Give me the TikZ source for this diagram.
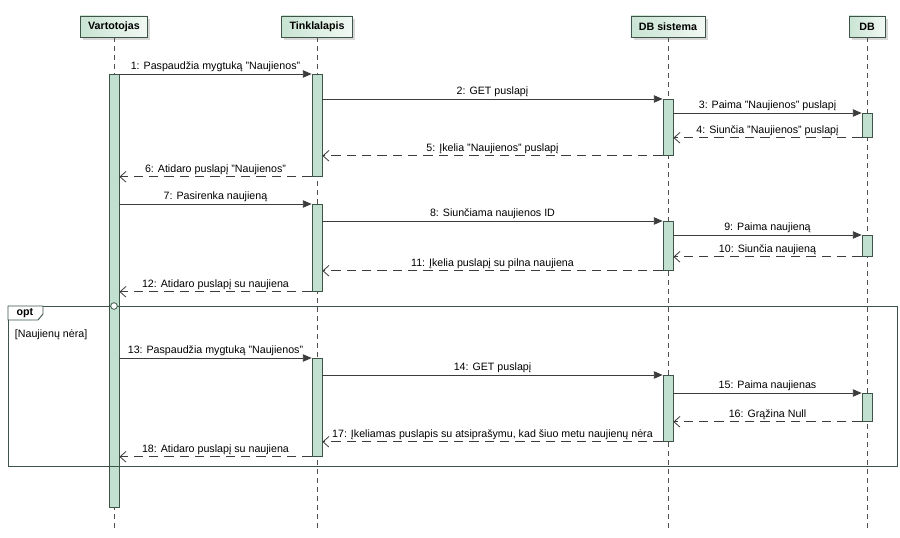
\documentclass[tikz,border=0pt]{standalone}
\usepackage{fontspec}
\setmainfont{Liberation Sans}
\usetikzlibrary{arrows.meta, shadows}
\definecolor{headfill}{RGB}{200,228,210}
\definecolor{barfill}{RGB}{194,224,207}
\definecolor{seqedge}{RGB}{62,84,72}
\definecolor{msggray}{RGB}{60,60,60}
\definecolor{lifegray}{RGB}{80,80,80}
\tikzset{
  % --- Dalyviai ---------------------------------------------
  seqpart/.style={draw=seqedge, line width=0.6pt, left color=headfill,
    right color=headfill!25, minimum height=15.75pt, inner xsep=6pt,
    font=\fontsize{8}{9.6}\selectfont\bfseries,
    drop shadow={shadow xshift=2pt, shadow yshift=-2pt, fill=black!30}},
  seqlife/.style={draw=lifegray, line width=0.6pt,
    dash pattern=on 3.75pt off 3pt},
  seqbar/.style={draw=seqedge, fill=barfill, line width=0.6pt,
    minimum width=7.5pt, inner sep=0pt, anchor=north},
  % --- Pranesimai -------------------------------------------
  seqmsg/.style={draw=msggray, line width=0.6pt,
    -{Triangle[length=6.5pt, width=5.5pt]}},
  seqret/.style={draw=msggray, line width=0.6pt,
    dash pattern=on 7pt off 4.5pt,
    -{Straight Barb[length=4.5pt, width=8pt]}},
  msglab/.style={above, inner sep=1.5pt, font=\fontsize{8}{9.6}\selectfont},
  % --- Fragmentas -------------------------------------------
  seqframe/.style={draw=seqedge, line width=0.7pt},
  fraglab/.style={font=\fontsize{8}{9.6}\selectfont, inner sep=2pt}
}

\begin{document}
\begin{tikzpicture}[x=0.75pt, y=-0.75pt]
  \useasboundingbox[fill=white] (0,0) rectangle (900,538);

  % ---------- Dalyviai ----------
  \node[seqpart] (hv) at (114,26.5) {Vartotojas};
  \node[seqpart] (ht) at (317,26.5) {Tinklalapis};
  \node[seqpart] (hs) at (668,26.5) {DB sistema};
  \node[seqpart, minimum width=27pt] (hd) at (867,26.5) {DB};

  % ---------- Gyvavimo linijos ----------
  \coordinate (bot) at (0,532);
  \draw[seqlife] (hv.south) -- (hv.south |- bot);
  \draw[seqlife] (ht.south) -- (ht.south |- bot);
  \draw[seqlife] (hs.south) -- (hs.south |- bot);
  \draw[seqlife] (hd.south) -- (hd.south |- bot);

  % ---------- Aktyvavimo juostos ----------
  \node[seqbar, minimum height=433*0.75pt] (va) at (114,74) {};
  \node[seqbar, minimum height=102*0.75pt] (ta1) at (317,74) {};
  \node[seqbar, minimum height=56*0.75pt] (sa1) at (668,99) {};
  \node[seqbar, minimum height=24*0.75pt] (da1) at (867,113) {};
  \node[seqbar, minimum height=87*0.75pt] (ta2) at (317,204) {};
  \node[seqbar, minimum height=49*0.75pt] (sa2) at (668,221) {};
  \node[seqbar, minimum height=21*0.75pt] (da2) at (867,235) {};
  \node[seqbar, minimum height=98*0.75pt] (ta3) at (317,358) {};
  \node[seqbar, minimum height=66*0.75pt] (sa3) at (668,375) {};
  \node[seqbar, minimum height=28*0.75pt] (da3) at (867,393) {};

  % ---------- Pranesimai 1-6 ----------
  \draw[seqmsg] (va.north east) -- node[msglab]
    {1: Paspaudžia mygtuką "Naujienos"} (ta1.north west);
  \draw[seqmsg] (ta1.east |- sa1.north) -- node[msglab]
    {2: GET puslapį} (sa1.north west);
  \draw[seqmsg] (sa1.east |- da1.north) -- node[msglab]
    {3: Paima "Naujienos" puslapį} (da1.north west);
  \draw[seqret] (da1.south west) -- node[msglab]
    {4: Siunčia "Naujienos" puslapį} (sa1.east |- da1.south);
  \draw[seqret] (sa1.south west) -- node[msglab]
    {5: Įkelia "Naujienos" puslapį} (ta1.east |- sa1.south);
  \draw[seqret] (ta1.south west) -- node[msglab]
    {6: Atidaro puslapį "Naujienos"} (va.east |- ta1.south);

  % ---------- Pranesimai 7-12 ----------
  \draw[seqmsg] (va.east |- ta2.north) -- node[msglab]
    {7: Pasirenka naujieną} (ta2.north west);
  \draw[seqmsg] (ta2.east |- sa2.north) -- node[msglab]
    {8: Siunčiama naujienos ID} (sa2.north west);
  \draw[seqmsg] (sa2.east |- da2.north) -- node[msglab]
    {9: Paima naujieną} (da2.north west);
  \draw[seqret] (da2.south west) -- node[msglab]
    {10: Siunčia naujieną} (sa2.east |- da2.south);
  \draw[seqret] (sa2.south west) -- node[msglab]
    {11: Įkelia puslapį su pilna naujiena} (ta2.east |- sa2.south);
  \draw[seqret] (ta2.south west) -- node[msglab]
    {12: Atidaro puslapį su naujiena} (va.east |- ta2.south);

  % ---------- Fragmentas opt ----------
  \draw[seqframe] (8,306) rectangle (897,466);
  \draw[seqframe, fill=white] (8,306) -- (43,306) -- (43,314)
    -- (38,320) -- (8,320) -- cycle;
  \node[fraglab, font=\fontsize{8}{9.6}\selectfont\bfseries] (opt)
    at (25,313) {opt};
  \node[fraglab, anchor=west] (guard) at (12,335) {[Naujienų nėra]};
  \node[draw=seqedge, fill=white, circle, line width=0.6pt, inner sep=0pt,
    minimum size=5pt] (gate) at (114,306) {};

  % ---------- Pranesimai 13-18 ----------
  \draw[seqmsg] (va.east |- ta3.north) -- node[msglab]
    {13: Paspaudžia mygtuką "Naujienos"} (ta3.north west);
  \draw[seqmsg] (ta3.east |- sa3.north) -- node[msglab]
    {14: GET puslapį} (sa3.north west);
  \draw[seqmsg] (sa3.east |- da3.north) -- node[msglab]
    {15: Paima naujienas} (da3.north west);
  \draw[seqret] (da3.south west) -- node[msglab]
    {16: Grąžina Null} (sa3.east |- da3.south);
  \draw[seqret] (sa3.south west) -- node[msglab]
    {17: Įkeliamas puslapis su atsiprašymu, kad šiuo metu naujienų nėra}
    (ta3.east |- sa3.south);
  \draw[seqret] (ta3.south west) -- node[msglab]
    {18: Atidaro puslapį su naujiena} (va.east |- ta3.south);

\end{tikzpicture}
\end{document}
